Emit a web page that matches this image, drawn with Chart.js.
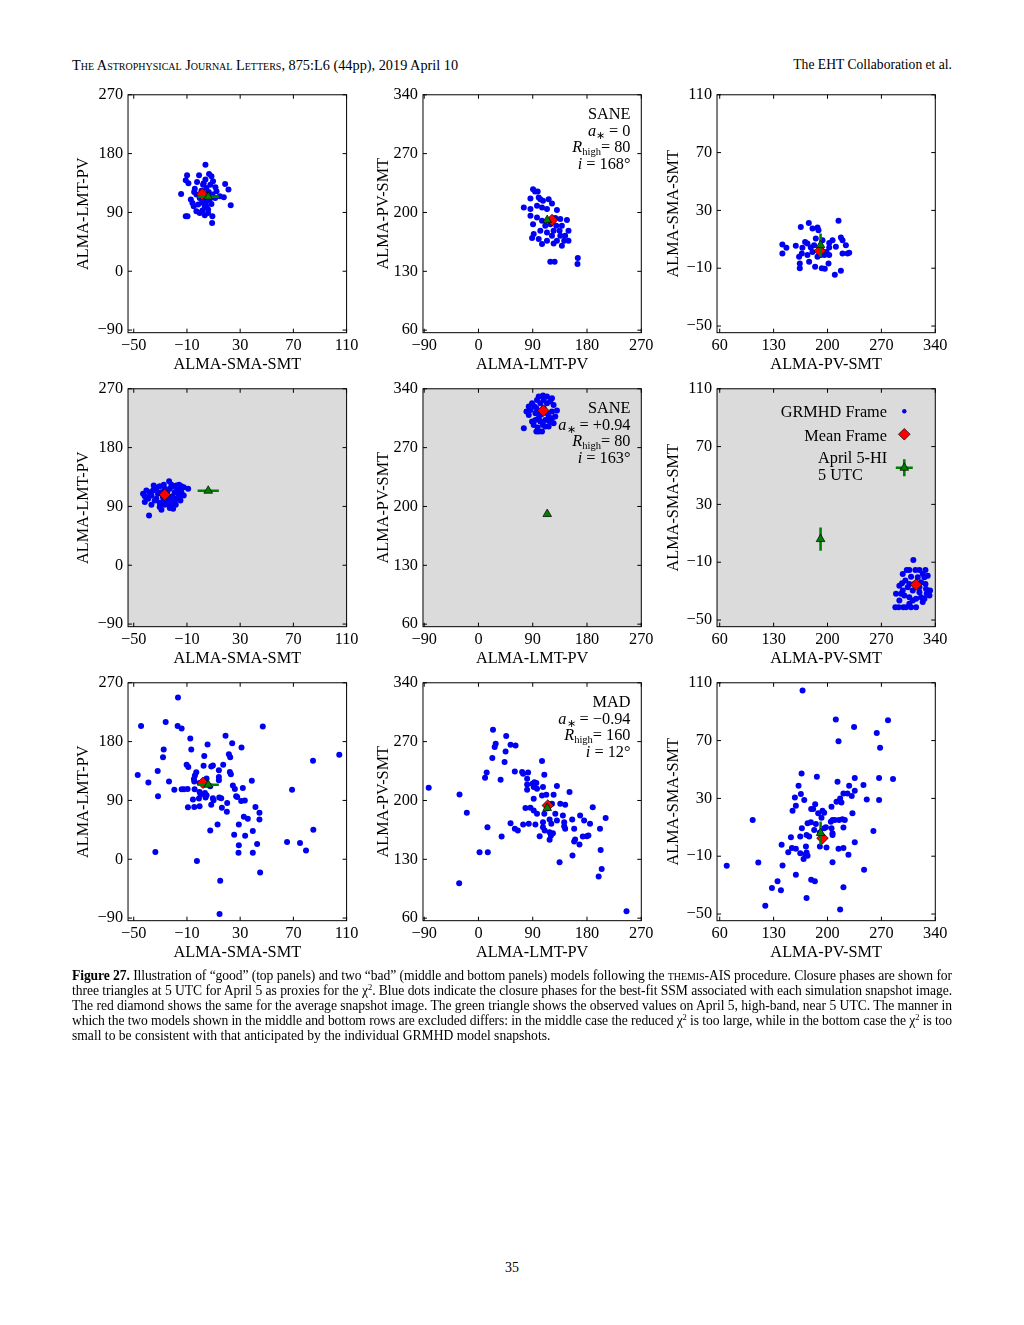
<!DOCTYPE html>
<html>
<head>
<meta charset="utf-8">
<title>EHT Figure 27</title>
<script src="https://cdn.jsdelivr.net/npm/chart.js@4.4.1/dist/chart.umd.min.js"></script>
<style>
  html, body { margin: 0; padding: 0; background: #fff; }
  #page { position: relative; width: 1024px; height: 1325px; overflow: hidden;
          font-family: 'Liberation Serif', 'Times New Roman', serif; color: #000; }
  .wrap { position: absolute; left: 0; top: 0; }
  .wrap canvas { display: block; }
  .hdr { position: absolute; top: 57px; font-size: 13.6px; line-height: 16px; white-space: nowrap; }
  .sc { font-variant: small-caps; }
  .note { position: absolute; left: 470px; width: 160.5px; text-align: right; font-size: 16.3px; line-height: 16.5px; white-space: nowrap; }
  .note sub { font-size: 10.5px; line-height: 0; vertical-align: -3px; }
  .leg { position: absolute; font-size: 16.3px; line-height: 17px; white-space: nowrap; }
  .cap { position: absolute; left: 72px; width: 880px; top: 967.5px; font-size: 13.6px; line-height: 15px; }
  .cap div { text-align: justify; text-align-last: justify; }
  .cap div.last { text-align-last: left; }
  .cap sup { font-size: 8.5px; line-height: 0; vertical-align: 5px; }
  .pg { position: absolute; top: 1260px; left: 0; width: 1024px; text-align: center; font-size: 14px; line-height: 16px; }
</style>
</head>
<body>
<div id="page">
  <div class="hdr" style="left:72px; font-size:14.3px"><span class="sc">The Astrophysical Journal Letters</span>, 875:L6 (44pp), 2019 April 10</div>
  <div class="hdr" style="right:72px">The EHT Collaboration et al.</div>

  <div class="wrap"><canvas id="p00" width="330" height="310"></canvas></div>
  <div class="wrap"><canvas id="p01" width="330" height="310"></canvas></div>
  <div class="wrap"><canvas id="p02" width="330" height="310"></canvas></div>
  <div class="wrap"><canvas id="p10" width="330" height="310"></canvas></div>
  <div class="wrap"><canvas id="p11" width="330" height="310"></canvas></div>
  <div class="wrap"><canvas id="p12" width="330" height="310"></canvas></div>
  <div class="wrap"><canvas id="p20" width="330" height="310"></canvas></div>
  <div class="wrap"><canvas id="p21" width="330" height="310"></canvas></div>
  <div class="wrap"><canvas id="p22" width="330" height="310"></canvas></div>

  <div class="note" style="top:106px">
    <div>SANE</div>
    <div><i>a</i><sub>∗</sub> = 0</div>
    <div><i>R</i><sub>high</sub>= 80</div>
    <div><i>i</i> = 168°</div>
  </div>
  <div class="note" style="top:400px">
    <div>SANE</div>
    <div><i>a</i><sub>∗</sub> = +0.94</div>
    <div><i>R</i><sub>high</sub>= 80</div>
    <div><i>i</i> = 163°</div>
  </div>
  <div class="note" style="top:694px">
    <div>MAD</div>
    <div><i>a</i><sub>∗</sub> = −0.94</div>
    <div><i>R</i><sub>high</sub>= 160</div>
    <div><i>i</i> = 12°</div>
  </div>

  <div class="leg" style="left:700px; width:187px; text-align:right; top:402.5px">GRMHD Frame</div>
  <div class="leg" style="left:700px; width:187px; text-align:right; top:426.5px">Mean Frame</div>
  <div class="leg" style="left:818px; top:448.5px">April 5-HI<br>5 UTC</div>

  <div class="cap">
    <div><b>Figure 27.</b> Illustration of “good” (top panels) and two “bad” (middle and bottom panels) models following the <span class="sc">themis</span>-AIS procedure. Closure phases are shown for</div>
    <div>three triangles at 5 UTC for April 5 as proxies for the χ<sup>2</sup>. Blue dots indicate the closure phases for the best-fit SSM associated with each simulation snapshot image.</div>
    <div>The red diamond shows the same for the average snapshot image. The green triangle shows the observed values on April 5, high-band, near 5 UTC. The manner in</div>
    <div>which the two models shown in the middle and bottom rows are excluded differs: in the middle case the reduced χ<sup>2</sup> is too large, while in the bottom case the χ<sup>2</sup> is too</div>
    <div class="last">small to be consistent with that anticipated by the individual GRMHD model snapshots.</div>
  </div>
  <div class="pg">35</div>
</div>

<script>
// tick labels of the three closure-phase axes (degrees)
const smaSmtTicks = [-50, -10, 30, 70, 110];
const lmtPvTicks = [-90, 0, 90, 180, 270];
const pvSmtTicks = [60, 130, 200, 270, 340];

// observed April 5 high-band values near 5 UTC, with errors
const obsSmaSmt = 6, errSmaSmt = 8;
const obsLmtPv = 114, errLmtPv = 3;
const obsPvSmt = 191, errPvSmt = 3;

// SANE a*=0, Rhigh=80, i=168  (good model)
const saneA0_smaLmt = [[3.9,163],[-9.9,146.8],[-0.9,146.8],[6.6,148.8],[8.4,145.3],[-10.9,139.1],[-8.9,134.6],[-2.4,136.6],[3.9,140.2],[2.6,134.6],[9.6,137.6],[18.7,133.5],[21.2,124.9],[4.6,127.4],[11.4,128.4],[12.2,122.3],[-14.4,118.3],[-4.6,121.3],[-2.9,117.3],[6.4,121.3],[9.1,117.3],[14.7,114.7],[17.7,113.2],[0.9,109.6],[-5.9,104.5],[-1.6,102],[4.6,107.1],[8.4,103],[22.9,101],[3.4,98.4],[5.9,94.3],[-2.9,91.8],[-0.4,89.2],[3.4,85.7],[9.1,84.2],[-10.9,84.2],[-9.6,84.2],[8.9,74],[2.1,104.5],[0.9,123.3],[-7.1,109.6],[7.1,109.6],[-0.4,112.2],[-4.1,126.4],[5.9,89.2],[4.1,117.3],[11.2,112.2],[2.1,132.5],[7.6,132.5],[4.6,99.4],[1.6,92.8],[-4.9,99.4]];
const saneA0_lmtPv = [[90.5,227.7],[93.8,225],[98.2,225],[86.2,216.6],[75.2,205.9],[86.2,196],[99.9,217.8],[102.6,215.8],[107,213.9],[116.4,215.8],[121.9,210.7],[130.1,202.8],[86.2,204],[97.1,207.9],[105.4,205.9],[113.6,204],[127.4,193.3],[135.7,192.1],[146.7,190.9],[97.1,194.1],[105.4,190.1],[119.1,186.1],[129,184.2],[138.3,184.2],[134.5,178.2],[149.3,178.2],[143.8,172.3],[149.3,166.3],[138.3,160.4],[130.1,166.3],[121.9,172.3],[113.6,176.2],[102.6,178.2],[91.6,174.3],[88.9,169.5],[99.9,168.3],[105.4,162.4],[113.6,166.3],[124.6,163.2],[119.1,141.4],[126.3,141.4],[164.7,145.7],[164.2,138.6],[90.5,186.1],[110.8,184.2],[124.6,178.2],[135.7,172.3],[142.2,166.3]];
const saneA0_pvSma = [[175.7,21.3],[165.3,18.5],[180.5,17.4],[187,18.1],[188.3,16.2],[214.3,22.9],[141.4,6.4],[141.4,0.2],[146.6,4.1],[158.8,5.5],[167.4,4.1],[170.9,8.2],[173.9,7.1],[178.3,4.3],[182.6,5.9],[166.6,0.2],[163.1,-2.1],[164,-6.7],[164,-10.1],[176.1,-5.5],[183.9,-9],[173.9,-0.9],[180.5,1.3],[192.6,2],[193.5,9.4],[202.2,7.5],[206.5,9.4],[202.2,4.3],[210.9,4.8],[217.4,11.2],[219.5,9.4],[223.9,5.9],[226,0.2],[228.2,0.7],[219.5,0.2],[202.2,-0.9],[192.6,-10.1],[196.5,-10.3],[201.3,-6.7],[209.5,-14.5],[217.4,-11.7],[196.1,-0.9],[187,-2.1],[191.3,-0.9],[198.7,1.3],[184.8,10.5]];
const saneA0_mean = [[1.4,118],[122,191],[190,2]];

// SANE a*=+0.94, Rhigh=80, i=163  (chi^2 too large)
const saneA094_smaLmt = [[-38.5,76.3],[-23.4,128.6],[-9.1,116.9],[-43,109.3],[-41.7,96.6],[-40,104.2],[-38,111.8],[-34.2,119.5],[-30.5,121],[-33,101.7],[-30.5,89],[-29.2,85],[-25.4,94.1],[-22.9,91.5],[-20.4,92.5],[-19.2,95.6],[-17.9,101.7],[-16.7,109.3],[-15.4,116.9],[-14.2,121],[-20.4,121],[-17.4,114.4],[-15.4,105.7],[-36.7,106.8],[-35.5,114.4],[-31.8,109.3],[-28,104.2],[-24.9,111.8],[-24.2,101.7],[-22.9,116.9],[-19.2,111.8],[-17.9,122],[-14.2,111.8],[-28,97.6],[-40.5,114.4],[-34.2,99.1],[-26.7,116.9],[-29.2,111.8],[-20.9,105.7],[-33,116.9],[-35,122],[-27.4,123],[-21.7,123],[-15.9,123],[-12.4,119.5],[-12.4,106.8],[-14.9,99.1],[-18.4,92.5],[-22.9,87.5],[-26.7,92.5],[-30.5,95.1],[-36.7,92.5],[-39.2,101.7],[-20.4,86.4],[-21.7,99.1],[-25.4,106.8],[-41.7,105.7]];
const saneA094_lmtPv = [[107,331.9],[113.6,330.7],[97.1,326.7],[88.9,322.8],[92.7,318.8],[86.2,314.9],[94.5,310.9],[102.6,308.9],[116.4,306.9],[121.9,312.9],[124.6,320.8],[130.1,314.1],[119.1,324.8],[102.6,322.8],[96,316.8],[110.8,303],[118,301],[91.6,297],[98.2,293.9],[75.2,293],[96,289.1],[105.4,289.1],[102.6,301],[108.1,316.8],[113.6,310.9],[99.9,305],[88.9,301],[121.9,305],[107,297],[116.4,295],[83.4,308.9],[83.4,318.8],[99.9,330.7],[121.9,328.7],[127.4,306.9],[124.6,299],[110.8,295],[102.6,312.9],[94.5,303],[113.6,322.8],[79.6,312.9],[99.9,289.1],[108.1,326.7]];
const saneA094_pvSma = [[311.5,-8.5],[306.3,-15.4],[319.4,-15.4],[327.2,-15.4],[296.8,-24.6],[289,-31.9],[293.3,-36.5],[288.1,-41.1],[292.4,-41.1],[298.5,-41.1],[306.3,-38.8],[315,-41.1],[323.7,-37.6],[332.4,-33],[328,-28.5],[321.5,-23.9],[308.5,-20],[301.1,-22.7],[304.2,-27.3],[310.7,-29.6],[319.4,-30.7],[299.8,-33],[306.3,-34.2],[315,-35.3],[297.7,-29.6],[325.9,-20.4],[317.2,-20.4],[312.9,-25],[321.5,-34.2],[327.2,-25],[297.7,-18.1],[302.9,-15.4],[314.2,-15.4],[323.7,-18.1],[330.2,-19.3],[328.9,-31.9],[306.3,-25],[319.4,-27.3],[293.3,-26.2],[295.5,-31.9],[310.7,-36.5],[325.9,-35.3],[302,-41.1],[308.5,-41.1],[333.2,-29.6]];
const saneA094_mean = [[-26.7,108],[107.6,314],[315,-25.5]];

// MAD a*=-0.94, Rhigh=160, i=12  (chi^2 too small)
const madAm094_smaLmt = [[-16.75,247.5],[-44.5,204],[-26,210],[-17,204],[-14,200],[47,203],[19,189],[-7.5,184.6],[24,177.5],[5.5,175.5],[31,171],[-27.5,168],[-6.75,168],[104.5,160],[3,158],[21.5,160.7],[22.5,156],[-28,156],[84.75,150.6],[-32,135],[-47,129],[-10.25,144.5],[-9,141],[2.5,143],[8.25,142],[9.5,143.5],[17.25,144.5],[14,136],[-3,133],[-4,128],[-4.75,122.7],[22.25,133.4],[23,130],[14,125.8],[14,120.7],[-23.5,119],[-39,117.6],[38.75,120.2],[24.5,113],[4.75,123.7],[26,107.5],[32,109],[69,106.5],[-19.5,106.5],[-14,107],[-12.25,107],[-4.25,107],[-31.75,96.3],[-0.5,103],[3.5,101.4],[4.75,97.9],[4,94.3],[9.5,93.3],[10,90.3],[14.25,94.3],[15.75,93.3],[-1,92.8],[-5.5,91.3],[27,96.3],[27.75,95.3],[30.75,89.2],[33.5,89.8],[20.25,86.2],[-9.25,79.6],[-4.5,80.1],[-0.5,81.1],[8.25,83.2],[16.25,78.6],[41.5,80.1],[44.5,71],[20,72.5],[32.75,65],[35.75,61.9],[44.5,60.9],[7.5,44.1],[13,53.2],[29,53.2],[39.5,43.1],[85,45.1],[25.5,37.5],[33.75,36],[29,21.3],[42.75,23.3],[65.25,26.4],[75,24.8],[79.5,13.2],[28.75,10.1],[39.5,10.1],[-33.75,11.2],[-2.5,-2.5],[45,-20.3],[15,-33],[14.5,-83.7],[-9.5,107.5],[-4.5,119],[-0.5,116.6],[7.5,111.6],[0.25,98.9]];
const madAm094_lmtPv = [[-82.5,215.1],[-31.4,207.1],[-19.3,185.3],[-32,101.5],[1.8,138.4],[15.5,138.4],[14.9,168.2],[38.4,157.1],[53.2,173],[65.3,164.3],[24.1,284.2],[46,276.6],[26.9,263.5],[28.6,267.5],[53.2,266.3],[61.5,265.5],[45,258.4],[23,250.4],[43.3,245.7],[13.6,233.4],[10.9,227],[36.7,224.6],[60.3,234.6],[72.4,233.8],[74.1,231.8],[82.3,233.4],[80.7,225.8],[80.7,219.1],[80.7,212.7],[89.5,219.8],[92.7,221.8],[96,220.7],[91.6,215.9],[97.1,213.9],[105.4,246.9],[109.2,230.6],[107,215.9],[105.4,206],[91.6,202],[112.5,206.8],[124.6,206.8],[130.1,217.1],[135.6,196],[151,210],[143.8,194.8],[189.5,191.9],[77.9,190.9],[86.2,191.3],[91.6,188.1],[97.1,184.1],[109.2,184.1],[121.9,196],[127.4,184.1],[130.1,176.2],[118,177.4],[120.8,172.2],[107,174.2],[94.4,171.4],[83.4,172.2],[74.1,171.4],[107,168.2],[109.8,164.3],[101.5,157.5],[118,162.3],[120.2,158.3],[118,153.2],[123.5,161.1],[140,182.1],[142.2,174.2],[142.2,169.4],[143.8,166.3],[155.4,177.4],[158.7,166.3],[158.7,151.2],[160.3,153.5],[155.9,134.5],[167.5,147.6],[168.6,182.1],[175.2,176.2],[173,157.1],[179.6,157.5],[185,172.2],[182.3,158.3],[201.5,166.3],[210.9,179],[202.6,141.2],[204.3,118.6],[199.3,109.5],[134.5,126.5],[245.5,68.1],[60.3,166.3]];
const madAm094_pvSma = [[167.6,104.6],[210.8,84.6],[234.5,79.4],[278.6,84],[264,75.2],[214.3,69.5],[268.3,65.1],[166.3,47.2],[186.2,44.9],[162.4,38.7],[165.4,33],[157.6,30.7],[158.9,24.9],[154.6,21.5],[169.8,28.9],[178.8,22.7],[181.4,22.7],[184,25.9],[213,41.5],[228.1,38.7],[235.4,44.2],[246.7,39.2],[267,44.2],[285.1,43.5],[267,28.9],[251,29.3],[235.4,35.3],[225.9,33.4],[220.7,33.4],[216.4,30],[211.7,27.7],[218.1,27.2],[231.5,31.6],[205.2,24.3],[232.4,19.7],[259.6,7.5],[193.5,21.5],[187.9,19.7],[192.2,16.7],[195.7,20.1],[102.8,15.1],[166.7,9.3],[174.1,12.8],[178.4,13.5],[184.9,12.3],[182.7,8.2],[172.8,4.7],[176.2,3.6],[164.6,3.6],[152.5,3.1],[140.4,-2.1],[153.8,-4.4],[158.9,-4.9],[149,-7.2],[164.6,-7.9],[172,-3.3],[172.8,-7.4],[171.1,-9],[174.1,-9.7],[168.9,-12],[195.7,9.3],[197.9,10],[204.3,13.9],[206.5,15.1],[209.5,15.1],[205.2,9.3],[206.5,4.7],[206.5,5.9],[215.1,15.1],[219.4,15.5],[220.7,9.8],[222.5,15.1],[214.3,-4.9],[220.7,-4.4],[227.2,-9],[235.4,-0.3],[198.7,-4],[190.1,-3.3],[190.1,6.4],[206.5,-14.1],[247.5,-19.4],[158.9,-22.8],[110.1,-14.3],[141.6,-16.4],[69.1,-16.6],[127.8,-32],[135.1,-27.4],[139.5,-33.6],[178.8,-26.2],[183.6,-27.4],[220.7,-31.5],[172.8,-38.9],[119.2,-44.2],[216.4,-46.9]];
const madAm094_mean = [[2,117],[115,194],[193.5,2.5]];

const BLUE = '#0000f2', RED = '#ff0000', GREEN = '#008000', GRAY = '#dbdbdb';

Chart.defaults.font.family = "'Liberation Serif', 'Times New Roman', serif";
Chart.defaults.font.size = 16.3;
Chart.defaults.color = '#000';
Chart.defaults.animation = false;

// axes: closure phase on each triangle
const axSmaSmtX = { title: 'ALMA-SMA-SMT', ticks: smaSmtTicks, min: -54.3, max: 110 };
const axLmtPvX  = { title: 'ALMA-LMT-PV',  ticks: lmtPvTicks,  min: -92,   max: 270 };
const axPvSmtX  = { title: 'ALMA-PV-SMT',  ticks: pvSmtTicks,  min: 56.5,  max: 340 };
const axLmtPvY  = { title: 'ALMA-LMT-PV',  ticks: lmtPvTicks,  min: -94,   max: 270 };
const axPvSmtY  = { title: 'ALMA-PV-SMT',  ticks: pvSmtTicks,  min: 57,    max: 340 };
const axSmaSmtY = { title: 'ALMA-SMA-SMT', ticks: smaSmtTicks, min: -54.6, max: 110 };

// page layout of the plot boxes
const colX = [128, 423, 717], colW = [219, 218, 218];
const rowY = [95, 389, 683], rowH = 238;
const yTitleInner = [-1, -5, -2];

const framePlugin = {
  id: 'frame',
  beforeDraw(chart, args, opts) {
    if (!opts.bg) return;
    const a = chart.chartArea, ctx = chart.ctx;
    ctx.save();
    ctx.fillStyle = opts.bg;
    ctx.fillRect(a.left, a.top, a.right - a.left, a.bottom - a.top);
    ctx.restore();
  },
  afterDraw(chart) {
    const a = chart.chartArea, ctx = chart.ctx;
    const sx = chart.scales.x, sy = chart.scales.y;
    ctx.save();
    ctx.strokeStyle = '#000';
    ctx.lineWidth = 1;
    ctx.beginPath();
    sx.ticks.forEach(t => {
      const p = sx.getPixelForValue(t.value);
      ctx.moveTo(p, a.bottom); ctx.lineTo(p, a.bottom - 4);
      ctx.moveTo(p, a.top); ctx.lineTo(p, a.top + 4);
    });
    sy.ticks.forEach(t => {
      const p = sy.getPixelForValue(t.value);
      ctx.moveTo(a.left, p); ctx.lineTo(a.left + 4, p);
      ctx.moveTo(a.right, p); ctx.lineTo(a.right - 4, p);
    });
    ctx.stroke();
    ctx.strokeRect(a.left, a.top, a.right - a.left, a.bottom - a.top);
    ctx.restore();
  }
};

const legendMarks = {
  id: 'legendMarks',
  afterDraw(chart) {
    const a = chart.chartArea, ctx = chart.ctx, x = a.right - 31;
    ctx.save();
    ctx.fillStyle = BLUE;
    ctx.beginPath(); ctx.arc(x, a.top + 22.5, 2.2, 0, Math.PI * 2); ctx.fill();
    let y = a.top + 45.5;
    ctx.beginPath();
    ctx.moveTo(x, y - 5.8); ctx.lineTo(x + 5.8, y); ctx.lineTo(x, y + 5.8); ctx.lineTo(x - 5.8, y);
    ctx.closePath();
    ctx.fillStyle = RED; ctx.fill();
    ctx.strokeStyle = '#000'; ctx.lineWidth = 0.7; ctx.stroke();
    y = a.top + 79;
    ctx.strokeStyle = GREEN; ctx.lineWidth = 2.6;
    ctx.beginPath();
    ctx.moveTo(x - 8.5, y); ctx.lineTo(x + 8.5, y);
    ctx.moveTo(x, y - 8.5); ctx.lineTo(x, y + 8.5);
    ctx.stroke();
    const r = 5;
    ctx.beginPath();
    ctx.moveTo(x, y - r); ctx.lineTo(x + r * 0.866, y + r / 2); ctx.lineTo(x - r * 0.866, y + r / 2);
    ctx.closePath();
    ctx.fillStyle = GREEN; ctx.fill();
    ctx.strokeStyle = '#000'; ctx.lineWidth = 0.7; ctx.stroke();
    ctx.restore();
  }
};

function axisOptions(axis, horizontal, inner) {
  return {
    type: 'linear',
    min: axis.min,
    max: axis.max,
    afterBuildTicks: s => { s.ticks = axis.ticks.map(v => ({ value: v })); },
    ticks: {
      padding: horizontal ? 3.5 : 5,
      autoSkip: false,
      maxRotation: 0,
      callback: v => String(v).replace('-', '\u2212')
    },
    grid: { display: false, drawTicks: false },
    border: { display: false },
    title: {
      display: true,
      text: axis.title,
      padding: horizontal ? { top: -3.8, bottom: 0 } : { top: 0, bottom: inner }
    }
  };
}

function placeChart(chart, wrap, box) {
  let a = chart.chartArea;
  const w = Math.round(chart.width + box.w - (a.right - a.left));
  const h = Math.round(chart.height + box.h - (a.bottom - a.top));
  chart.resize(w, h);
  a = chart.chartArea;
  wrap.style.left = Math.round(box.x - a.left) + 'px';
  wrap.style.top = Math.round(box.y - a.top) + 'px';
}

function makePanel(row, col, xAxis, yAxis, frames, mean, obs, extra) {
  const canvas = document.getElementById('p' + row + col);
  const errBar = [
    { x: obs.x - obs.xe, y: obs.y }, { x: obs.x + obs.xe, y: obs.y },
    { x: obs.x, y: null },
    { x: obs.x, y: obs.y - obs.ye }, { x: obs.x, y: obs.y + obs.ye }
  ];
  const chart = new Chart(canvas, {
    type: 'scatter',
    data: {
      datasets: [
        { data: [{ x: obs.x, y: obs.y }], pointStyle: 'triangle', pointRadius: 5,
          backgroundColor: GREEN, borderColor: '#000', borderWidth: 0.7, order: 0 },
        { data: errBar, showLine: true, spanGaps: false, pointRadius: 0,
          borderColor: GREEN, borderWidth: 2.6, order: 1 },
        { data: [{ x: mean[0], y: mean[1] }], pointStyle: 'rectRot', pointRadius: 5.8,
          backgroundColor: RED, borderColor: '#000', borderWidth: 0.7, order: 2 },
        { data: frames.map(p => ({ x: p[0], y: p[1] })), pointRadius: 3,
          backgroundColor: BLUE, borderWidth: 0, order: 3 }
      ]
    },
    options: {
      responsive: false,
      maintainAspectRatio: false,
      events: [],
      layout: { padding: { top: 10, right: 14, left: 0, bottom: 0 } },
      scales: {
        x: axisOptions(xAxis, true, 0),
        y: axisOptions(yAxis, false, yTitleInner[col])
      },
      plugins: {
        legend: { display: false },
        tooltip: { enabled: false },
        frame: { bg: row === 1 ? GRAY : null }
      }
    },
    plugins: [framePlugin].concat(extra || [])
  });
  placeChart(chart, canvas.parentNode, { x: colX[col], y: rowY[row], w: colW[col], h: rowH });
  return chart;
}

const obs1 = { x: obsSmaSmt, xe: errSmaSmt, y: obsLmtPv, ye: errLmtPv };
const obs2 = { x: obsLmtPv, xe: errLmtPv, y: obsPvSmt, ye: errPvSmt };
const obs3 = { x: obsPvSmt, xe: errPvSmt, y: obsSmaSmt, ye: errSmaSmt };

makePanel(0, 0, axSmaSmtX, axLmtPvY, saneA0_smaLmt, saneA0_mean[0], obs1);
makePanel(0, 1, axLmtPvX, axPvSmtY, saneA0_lmtPv, saneA0_mean[1], obs2);
makePanel(0, 2, axPvSmtX, axSmaSmtY, saneA0_pvSma, saneA0_mean[2], obs3);
makePanel(1, 0, axSmaSmtX, axLmtPvY, saneA094_smaLmt, saneA094_mean[0], obs1);
makePanel(1, 1, axLmtPvX, axPvSmtY, saneA094_lmtPv, saneA094_mean[1], obs2);
makePanel(1, 2, axPvSmtX, axSmaSmtY, saneA094_pvSma, saneA094_mean[2], obs3, [legendMarks]);
makePanel(2, 0, axSmaSmtX, axLmtPvY, madAm094_smaLmt, madAm094_mean[0], obs1);
makePanel(2, 1, axLmtPvX, axPvSmtY, madAm094_lmtPv, madAm094_mean[1], obs2);
makePanel(2, 2, axPvSmtX, axSmaSmtY, madAm094_pvSma, madAm094_mean[2], obs3);

// keep each caption line on one line: tighten letters if the natural width is too wide
document.querySelectorAll('.cap div').forEach(d => {
  d.style.width = 'max-content';
  const natural = d.getBoundingClientRect().width;
  d.style.width = '';
  if (natural > 879) {
    const n = d.textContent.trim().length;
    d.style.letterSpacing = ((879 - natural) / n).toFixed(3) + 'px';
  }
});
</script>
</body>
</html>
